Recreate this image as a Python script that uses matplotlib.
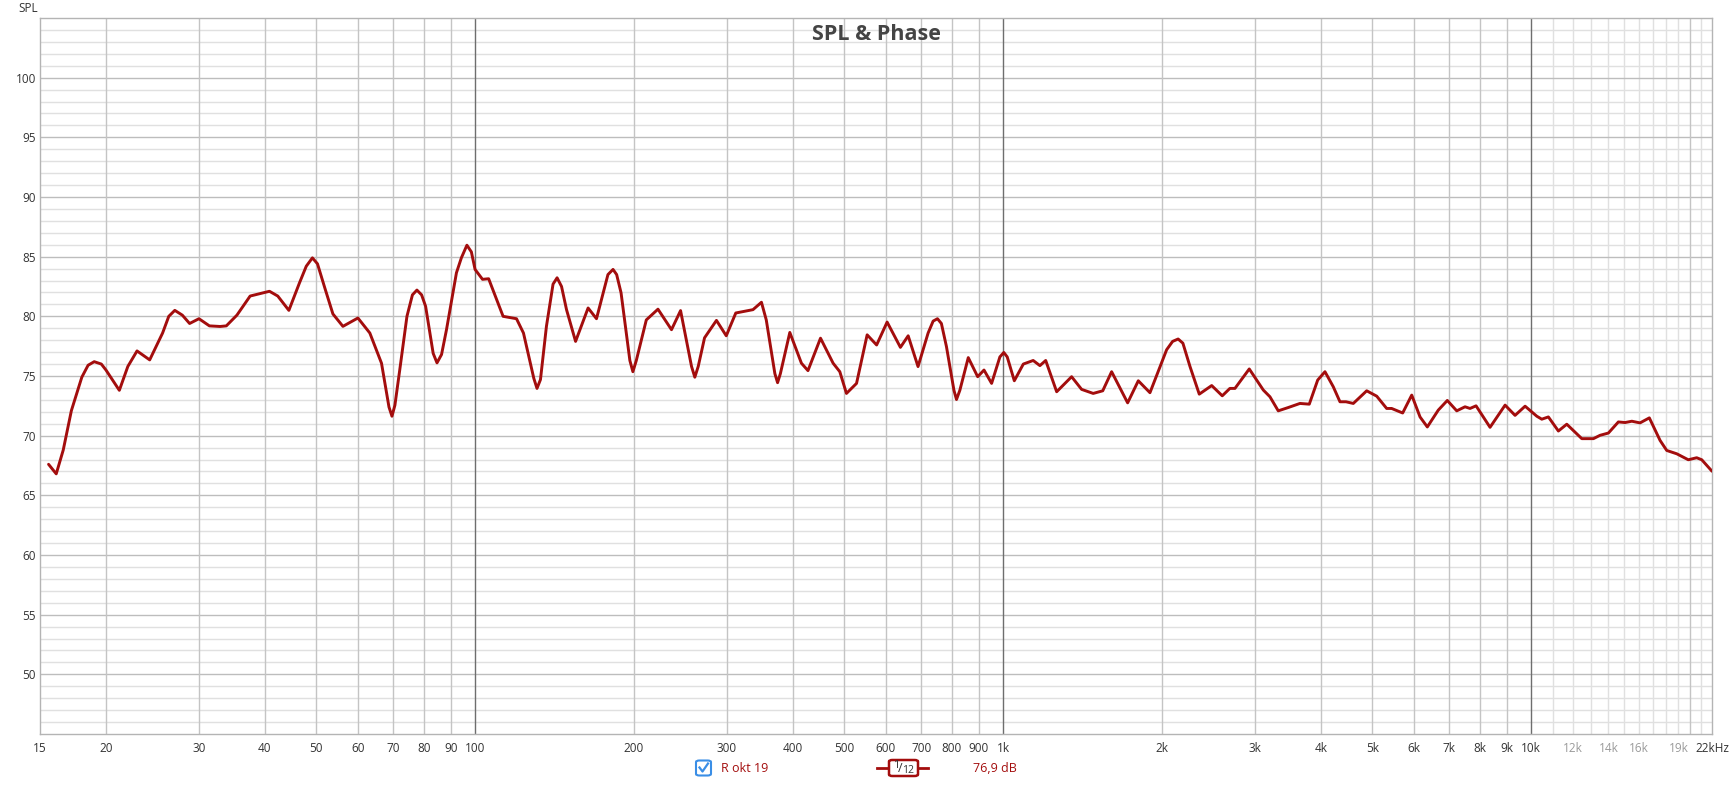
import numpy as np
import matplotlib
matplotlib.use("Agg")
import matplotlib.pyplot as plt
from matplotlib.patches import FancyBboxPatch
from matplotlib.lines import Line2D

plt.rcParams['font.family'] = ['Open Sans', 'DejaVu Sans']

freq = [15.57, 16.1, 16.6, 17.2, 18.0, 18.5, 19.0, 19.6, 20.0, 21.2, 22.0, 22.9, 24.2,
        25.6, 26.3, 27.0, 27.9, 28.8, 30.0, 31.4, 32.9, 33.8, 35.4, 37.5, 40.8, 42.3,
        44.4, 46.5, 47.9, 49.2, 50.3, 52.0, 53.8, 56.2, 60.0, 63.2, 66.5, 68.7, 69.6,
        70.5, 72.0, 74.3, 76.1, 77.6, 79.2, 80.6, 83.3, 84.7, 86.4, 88.3, 92.2, 94.2,
        96.5, 98.4, 100, 103.3, 106.1, 113, 119.8, 123.5, 129.2, 131, 133, 136.5, 140.5,
        143, 145.8, 149, 155, 163.7, 169.8, 178.5, 182.5, 185.4, 189, 196.4, 199, 202,
        211, 222, 235.5, 245, 257, 260.7, 264.6, 272, 286.5, 299, 311.7, 336, 348.6, 356,
        369.6, 374, 378.6, 394.5, 415, 427, 451, 476.5, 490.6, 505, 527.7, 552.7, 576,
        603, 639, 661, 690, 721, 737, 751, 764, 781, 807, 816, 828, 859, 895, 920, 951,
        986, 1003, 1018, 1050, 1092, 1140, 1174, 1204, 1263, 1348, 1408, 1481, 1544, 1605,
        1721, 1803, 1897, 2040, 2094, 2145, 2190, 2259, 2352, 2483, 2600, 2688, 2748,
        2925, 3110, 3201, 3319, 3468, 3648, 3800, 3942, 4069, 4219, 4344, 4460, 4604,
        4881, 5099, 5325, 5442, 5710, 5940, 6159, 6358, 6669, 6937, 7228, 7494, 7659,
        7863, 8358, 8925, 9321, 9738, 10248, 10473, 10779, 11260, 11679, 12470, 13118,
        13504, 14004, 14625, 15060, 15510, 16074, 16740, 17543, 18060, 18870, 19840,
        20580, 21040, 22000]
spl = [67.6, 66.8, 68.8, 72.1, 74.9, 75.9, 76.2, 76.0, 75.5, 73.8, 75.8, 77.1, 76.35,
       78.6, 80.0, 80.5, 80.1, 79.4, 79.8, 79.2, 79.15, 79.2, 80.1, 81.7, 82.1, 81.7,
       80.5, 82.8, 84.2, 84.9, 84.4, 82.3, 80.2, 79.16, 79.86, 78.6, 76.07, 72.4, 71.63,
       72.55, 75.5, 80.0, 81.8, 82.2, 81.8, 80.84, 76.9, 76.1, 76.8, 78.9, 83.65, 84.9,
       85.96, 85.4, 83.93, 83.1, 83.15, 80.0, 79.8, 78.6, 74.8, 73.96, 74.7, 79.16, 82.7,
       83.23, 82.5, 80.56, 77.9, 80.7, 79.8, 83.5, 83.93, 83.5, 81.97, 76.3, 75.36, 76.3,
       79.7, 80.6, 78.88, 80.48, 75.8, 74.9, 75.8, 78.2, 79.66, 78.37, 80.28, 80.56, 81.18, 79.7,
       75.2, 74.44, 75.2, 78.65, 76.07, 75.45, 78.17, 76.07, 75.36, 73.54, 74.38, 78.45, 77.6,
       79.52, 77.4, 78.37, 75.79, 78.6, 79.6, 79.8, 79.4, 77.47, 73.8, 73.03, 73.8, 76.54, 74.94,
       75.5, 74.38, 76.6, 76.97, 76.6, 74.6, 76.0, 76.3, 75.87, 76.3, 73.68, 74.94, 73.88,
       73.54, 73.76, 75.36, 72.75, 74.6, 73.6, 77.2, 77.9, 78.1, 77.75, 75.79, 73.48, 74.2,
       73.34, 73.96, 73.96, 75.59, 73.82, 73.26, 72.08, 72.36, 72.7, 72.64, 74.66, 75.36,
       74.1, 72.84, 72.84, 72.7, 73.76, 73.31, 72.28, 72.28, 71.9, 73.4, 71.57, 70.73, 72.14,
       72.95, 72.08, 72.42, 72.28, 72.5, 70.7, 72.56, 71.7, 72.47, 71.63, 71.38, 71.57, 70.39,
       70.96, 69.75, 69.75, 70.03, 70.22, 71.15, 71.1, 71.21, 71.07, 71.49, 69.6, 68.76,
       68.48, 67.98, 68.15, 67.98, 67.02]

x_ticks = [15, 20, 30, 40, 50, 60, 70, 80, 90, 100, 200, 300, 400, 500, 600, 700, 800,
           900, 1000, 2000, 3000, 4000, 5000, 6000, 7000, 8000, 9000, 10000, 12000,
           14000, 16000, 19000, 22000]
x_labels = ['15', '20', '30', '40', '50', '60', '70', '80', '90', '100', '200', '300',
            '400', '500', '600', '700', '800', '900', '1k', '2k', '3k', '4k', '5k', '6k',
            '7k', '8k', '9k', '10k', '12k', '14k', '16k', '19k', '22kHz']
faint_labels = ['12k', '14k', '16k', '19k']
decades = [100, 1000, 10000]
hf_minor = [11000, 12000, 13000, 14000, 15000, 16000, 17000, 18000, 19000, 21000]
y_ticks = list(range(50, 101, 5))

trace_color = '#a30d0d'

fig = plt.figure(figsize=(17.32, 7.85), dpi=100, facecolor='white')
ax = fig.add_axes([40 / 1732, 51 / 785, 1672 / 1732, 716 / 785])
ax.set_xscale('log')
ax.set_xlim(15, 22000)
ax.set_ylim(45, 105)

# horizontal grid: 1 dB minor, 5 dB major
for v in range(46, 105):
    if v % 5 == 0:
        ax.axhline(v, color='#bdbdbd', lw=1.0, zorder=1)
    else:
        ax.axhline(v, color='#e0e0e0', lw=1.0, zorder=0.5)

# vertical grid
for f in x_ticks[1:-1]:
    if f in decades:
        ax.axvline(f, color='#6e6e6e', lw=1.0, zorder=1.2)
    elif f not in hf_minor:
        ax.axvline(f, color='#c4c4c4', lw=1.0, zorder=1)
for f in hf_minor:
    ax.axvline(f, color='#e0e0e0', lw=1.0, zorder=0.8)
ax.axvline(20000, color='#c4c4c4', lw=1.0, zorder=1)

ax.plot(freq, spl, color=trace_color, lw=2.1, solid_joinstyle='round',
        solid_capstyle='round', zorder=3)

ax.set_xticks(x_ticks)
ax.set_xticklabels(x_labels)
ax.xaxis.set_minor_locator(matplotlib.ticker.NullLocator())
ax.set_yticks(y_ticks)
ax.set_yticklabels([str(v) for v in y_ticks])
ax.tick_params(axis='both', length=0, labelsize=8.5, colors='#333333', pad=6)
ax.tick_params(axis='y', pad=3)
for lbl in ax.get_xticklabels():
    if lbl.get_text() in faint_labels:
        lbl.set_color('#9a9a9a')

for s in ax.spines.values():
    s.set_color('#b4b4b4')
    s.set_linewidth(1.0)

fig.text(28 / 1732, 1 - 8 / 785, 'SPL', ha='center', va='center', fontsize=8.5, color='#333333')
fig.text(876 / 1732, 1 - 34 / 785, 'SPL & Phase', ha='center', va='center',
         fontsize=15.5, fontweight='bold', color='#444444')

# legend row at the bottom
ly = 1 - 768 / 785
cb = FancyBboxPatch((696 / 1732, ly - 7.5 / 785), 15 / 1732, 15 / 785,
                    boxstyle='round,pad=0,rounding_size=0.002', transform=fig.transFigure,
                    facecolor='white', edgecolor='#3a8ee6', lw=1.5)
fig.patches.append(cb)
fig.lines.append(Line2D([699.5 / 1732, 702.5 / 1732, 708 / 1732],
                        [ly + 0.5 / 785, ly - 3.5 / 785, ly + 4.5 / 785],
                        transform=fig.transFigure, color='#3a8ee6', lw=1.6))
fig.text(721 / 1732, ly, 'R okt 19', ha='left', va='center', fontsize=9, color=trace_color)

fig.lines.append(Line2D([877 / 1732, 928 / 1732], [ly, ly], transform=fig.transFigure,
                        color=trace_color, lw=2))
box = FancyBboxPatch((889 / 1732, ly - 8 / 785), 29 / 1732, 16 / 785,
                     boxstyle='round,pad=0,rounding_size=0.002', transform=fig.transFigure,
                     facecolor='white', edgecolor=trace_color, lw=1.8, zorder=3)
fig.patches.append(box)
fig.text(896 / 1732, ly + 2 / 785, '1', ha='center', va='center', fontsize=8,
         color='#333333', zorder=4)
fig.text(900 / 1732, ly, '/', ha='center', va='center', fontsize=9,
         color='#333333', zorder=4)
fig.text(908 / 1732, ly - 2.5 / 785, '12', ha='center', va='center', fontsize=7.5,
         color='#333333', zorder=4)
fig.text(973 / 1732, ly, '76,9 dB', ha='left', va='center', fontsize=9, color=trace_color)

fig.savefig('out.png', dpi=100, facecolor='white')
